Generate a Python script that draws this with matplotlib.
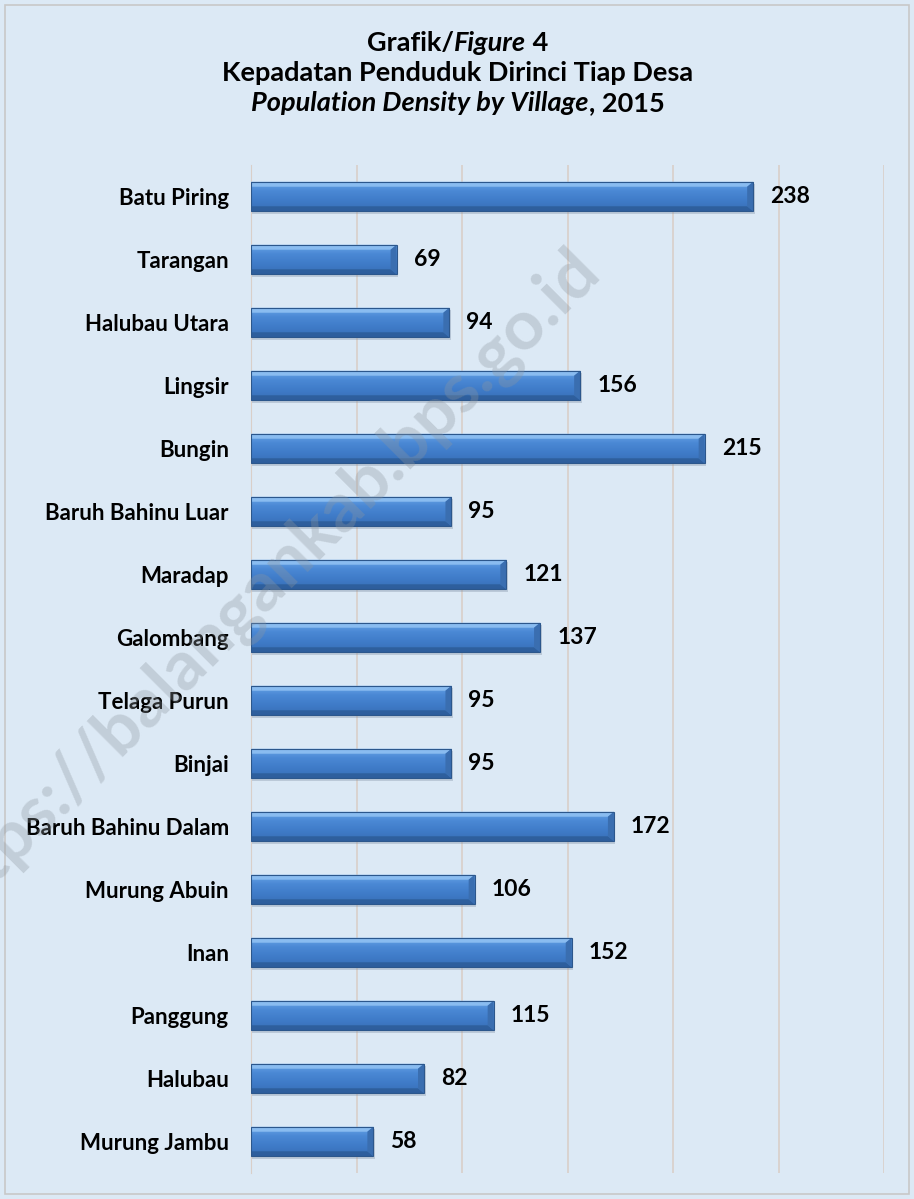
import matplotlib
matplotlib.use("Agg")
import matplotlib.pyplot as plt
import numpy as np
from matplotlib.patches import Polygon, Rectangle
from matplotlib.colors import LinearSegmentedColormap

villages = ["Batu Piring", "Tarangan", "Halubau Utara", "Lingsir", "Bungin",
            "Baruh Bahinu Luar", "Maradap", "Galombang", "Telaga Purun", "Binjai",
            "Baruh Bahinu Dalam", "Murung Abuin", "Inan", "Panggung", "Halubau",
            "Murung Jambu"]
density = [238, 69, 94, 156, 215, 95, 121, 137, 95, 95, 172, 106, 152, 115, 82, 58]
xticks = [0, 50, 100, 150, 200, 250, 300]

FONT = "Lato"
W, H = 914, 1199
fig = plt.figure(figsize=(W / 100, H / 100), dpi=100)
bg = "#dce9f5"
fig.patch.set_facecolor(bg)
# border
fig.add_artist(Rectangle((5 / W, 5 / H), 1 - 10 / W, 1 - 10 / H, transform=fig.transFigure,
                         fill=False, edgecolor="#c8c8c8", lw=1.2))

ax = fig.add_axes([251 / W, 1 - 1173 / H, (884 - 251) / W, (1173 - 165) / H])
ax.set_facecolor("none")
ax.set_xlim(0, 300)
ax.set_ylim(len(villages) - 0.5, -0.5)
ax.set_xticks(xticks)
ax.xaxis.grid(True, color="#d9cfc9", lw=1.2)
ax.set_axisbelow(True)
ax.tick_params(axis="x", length=0, labelbottom=False)
ax.tick_params(axis="y", length=0, pad=16)
for s in ax.spines.values():
    s.set_visible(False)
ax.spines["left"].set_visible(True)
ax.spines["left"].set_color("#d9cfc9")

ys = np.arange(len(villages))
ax.set_yticks(ys)
ax.set_yticklabels(villages, fontfamily=FONT, fontweight="bold", fontsize=16)

bh = 0.47
face_cmap = LinearSegmentedColormap.from_list("face", ["#6aa6e8", "#4a88d4", "#3f7bc8", "#386fb6"])
grad = np.linspace(0, 1, 64).reshape(-1, 1)
px_x = 300 / (884 - 251)         # data units per px in x
px_y = 16 / (1173 - 165)         # data units per px in y
bev_x = 6 * px_x
bev_y = 5 * px_y

bars = ax.barh(ys, density, height=bh, color="none", edgecolor="none")
for y, v, b in zip(ys, density, bars):
    top = y - bh / 2
    bot = y + bh / 2
    # shadow
    ax.add_patch(Rectangle((0, top + 2.5 * px_y), v + 1.5 * px_x, bh, facecolor="#7f8fa3",
                           alpha=0.35, edgecolor="none", zorder=2))
    im = ax.imshow(grad, cmap=face_cmap, aspect="auto", extent=(0, v, bot, top), zorder=3)
    im.set_clip_path(b)
    # top bevel (light)
    ax.add_patch(Polygon([(0, top), (v, top), (v - bev_x, top + bev_y), (0, top + bev_y)],
                         closed=True, facecolor="#8fc0f2", edgecolor="none", alpha=0.9, zorder=4))
    # bottom bevel (dark)
    ax.add_patch(Polygon([(0, bot), (v, bot), (v - bev_x, bot - bev_y), (0, bot - bev_y)],
                         closed=True, facecolor="#2d5d9a", edgecolor="none", alpha=0.9, zorder=4))
    # right bevel
    ax.add_patch(Polygon([(v - bev_x, top + bev_y), (v, top), (v, bot), (v - bev_x, bot - bev_y)],
                         closed=True, facecolor="#3a6eb0", edgecolor="none", zorder=4))
    ax.add_patch(Rectangle((0, top), v, bh, fill=False, edgecolor="#2c578c", lw=0.8, zorder=5))
    ax.text(v + 17 * px_x, y, f"{v}", va="center", ha="left", fontfamily=FONT,
            fontweight="bold", fontsize=16.5, color="black", zorder=6)

# watermark
fig.text(262 / W, 1 - 588 / H, "https://balangankab.bps.go.id", rotation=45,
         ha="center", va="center", fontfamily=FONT, fontweight="bold", fontsize=50,
         color="#8e979f", alpha=0.33, zorder=10)

# title with mixed styles
def mixed_line(pieces, xc, yc, size):
    renderer = fig.canvas.get_renderer()
    texts = []
    for txt, style in pieces:
        t = fig.text(0, 0, txt, fontfamily=FONT, fontweight="bold", fontstyle=style,
                     fontsize=size, ha="left", va="center")
        texts.append(t)
    widths = [t.get_window_extent(renderer).width for t in texts]
    total = sum(widths)
    x = xc * W - total / 2
    for t, w in zip(texts, widths):
        t.set_position((x / W, yc))
        x += w

size = 19.5
mixed_line([("Grafik/", "normal"), ("Figure", "italic"), (" 4", "normal")], 458 / W, 1 - 43 / H, size)
mixed_line([("Kepadatan Penduduk Dirinci Tiap Desa", "normal")], 458 / W, 1 - 73 / H, size)
mixed_line([("Population Density by Village", "italic"), (", 2015", "normal")], 458 / W, 1 - 103 / H, size)

fig.savefig("out.png", dpi=100, facecolor=fig.get_facecolor())
